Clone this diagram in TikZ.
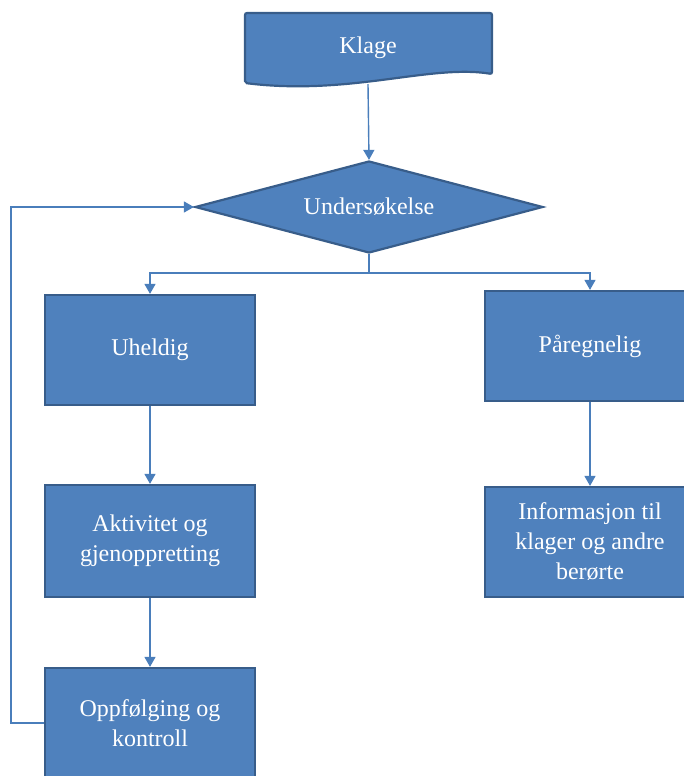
\documentclass[tikz,border=0pt]{standalone}
\usepackage{fontspec}
\setmainfont{Liberation Serif}
\usetikzlibrary{arrows.meta,positioning,shapes.geometric,calc}
\definecolor{boxfill}{RGB}{79,129,189}
\definecolor{boxline}{RGB}{56,93,138}
\definecolor{flowline}{RGB}{74,126,187}

\begin{document}
\begin{tikzpicture}[x=1pt,y=-1pt,>={Triangle[length=10pt,width=11pt]},
  stepbox/.style={draw=boxline,line width=2.2pt,fill=boxfill,text=white,
    font=\fontsize{24}{30}\selectfont,align=center,inner sep=0pt,
    minimum width=210pt,minimum height=110pt},
  flow/.style={->,flowline,line width=1.4pt}]
  % page frame
  \useasboundingbox (0,0) rectangle (684,776);
  % document shape for the complaint
  \draw[boxline,line width=2.2pt,fill=boxfill,rounded corners=2pt]
    (245,13) -- (492,13) -- (492,74) .. controls (430,64) and (350,96) .. (245,83) -- cycle;
  \node[text=white,font=\fontsize{24}{30}\selectfont,minimum width=247pt,minimum height=72pt,inner sep=0pt]
    (klage) at (368,48) {Klage};
  % decision
  \node[stepbox,shape=diamond,shape aspect=3.78,minimum width=348pt,minimum height=92pt]
    (undersok) at (369,207) {Undersøkelse};
  % left branch
  \node[stepbox] (uheldig) at (150,350) {Uheldig};
  \node[stepbox,minimum height=112pt] (aktivitet) at (150,541) {Aktivitet og\\gjenoppretting};
  \node[stepbox] (oppfolging) at (150,723) {Oppfølging og\\kontroll};
  % right branch
  \node[stepbox] (paregnelig) at (590,346) {Påregnelig};
  \node[stepbox] (informasjon) at (590,542) {Informasjon til\\klager og andre\\berørte};
  % connectors
  \draw[flow] (klage.south) -- (undersok.north);
  \draw[flow] (undersok.south) -- ++(0,19) -| (uheldig.north);
  \draw[flow] (undersok.south) -- ++(0,19) -| (paregnelig.north);
  \draw[flow] (uheldig.south) -- (aktivitet.north);
  \draw[flow] (aktivitet.south) -- (oppfolging.north);
  \draw[flow] (paregnelig.south) -- (informasjon.north);
  % feedback loop
  \draw[flow] (oppfolging.west) -- ++(-33,0) |- (undersok.west);
\end{tikzpicture}
\end{document}
